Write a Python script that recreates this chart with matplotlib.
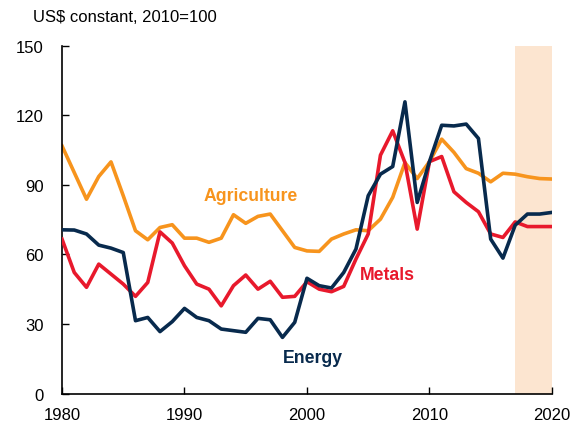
import matplotlib
matplotlib.use("Agg")
import matplotlib.pyplot as plt

years = list(range(1980, 2021))
energy = [70.6, 70.5, 68.8, 64.0, 62.7, 60.8, 31.4, 32.8, 26.7, 31.0,
          36.7, 32.8, 31.4, 27.8, 27.1, 26.4, 32.4, 31.8, 24.2, 30.7,
          49.7, 46.5, 45.5, 52.2, 62.3, 85.3, 94.6, 97.9, 125.8, 82.4,
          100.0, 115.7, 115.4, 116.2, 110.0, 66.6, 58.4, 72.6, 77.4, 77.4, 78.1]
metals = [66.6, 52.2, 45.8, 55.8, 51.5, 47.2, 41.9, 47.9, 69.7, 64.9,
          55.1, 47.2, 45.0, 37.8, 46.5, 51.1, 45.0, 48.4, 41.5, 41.9,
          48.2, 45.0, 43.9, 46.2, 58.0, 68.8, 102.8, 113.3, 99.6, 70.9,
          100.0, 102.2, 87.0, 82.4, 78.4, 68.8, 67.3, 74.0, 72.0, 72.0, 72.0]
agriculture = [106.8, 95.3, 83.8, 93.6, 99.9, 85.3, 70.2, 66.3, 71.6, 72.8,
               67.0, 67.0, 65.2, 67.0, 77.1, 73.4, 76.4, 77.4, 70.2, 63.0,
               61.5, 61.3, 66.6, 68.8, 70.6, 70.2, 75.2, 84.6, 99.6, 92.7,
               100.0, 109.7, 104.0, 97.0, 95.0, 91.3, 95.0, 94.6, 93.5, 92.7, 92.5]
forecast_span = (2017, 2020)
yticks = [0, 30, 60, 90, 120, 150]
xticks = [1980, 1990, 2000, 2010, 2020]

plt.rcParams['font.family'] = ['Liberation Sans', 'DejaVu Sans']

fig = plt.figure(figsize=(5.71, 4.27), dpi=100)
ax = fig.add_axes([0.1086, 0.0761, 0.858, 0.8145])

ax.axvspan(*forecast_span, color='#FCE5D0', lw=0, zorder=0)

c_en, c_me, c_ag = '#082A4D', '#E8192C', '#F7941D'
lw = 2.6
ax.plot(years, agriculture, color=c_ag, lw=lw, zorder=2)
ax.plot(years, metals, color=c_me, lw=lw, zorder=3)
ax.plot(years, energy, color=c_en, lw=lw, zorder=4)

ax.text(1995.4, 85.3, 'Agriculture', color=c_ag, fontsize=12.7, fontweight='bold', ha='center', va='center')
ax.text(2006.6, 51.3, 'Metals', color=c_me, fontsize=12.7, fontweight='bold', ha='center', va='center')
ax.text(2000.5, 15.5, 'Energy', color=c_en, fontsize=12.7, fontweight='bold', ha='center', va='center')

ax.set_xlim(1980, 2020)
ax.set_ylim(0, 150)
ax.set_xticks(xticks)
ax.set_yticks(yticks)
ax.tick_params(direction='in', length=5, width=1, labelsize=12)
ax.tick_params(axis='y', pad=13)
ax.tick_params(axis='x', pad=9.5)
for s in ['top', 'right']:
    ax.spines[s].set_visible(False)
for s in ['left', 'bottom']:
    ax.spines[s].set_linewidth(1.2)

fig.text(33/571, 1 - 18/427, 'US$ constant, 2010=100', fontsize=12, ha='left', va='center')

fig.savefig('out.png', dpi=100)
